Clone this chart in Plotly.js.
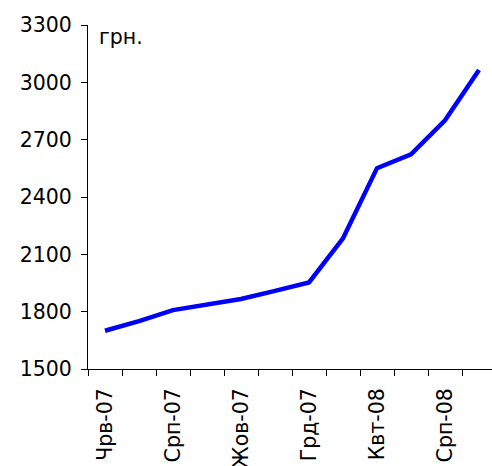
<!DOCTYPE html>
<html>
<head>
<meta charset="utf-8">
<script src="https://cdn.plot.ly/plotly-3.0.1.min.js"></script>
<style>html,body{margin:0;padding:0;overflow:hidden;background:#fff}</style>
</head>
<body>
<div id="chart" style="width:492px;height:466px"></div>
<script>
// Categories (every second one labelled, as in the reference)
const categories = ["Чрв-07","Лип-07","Срп-07","Вер-07","Жов-07","Лис-07","Грд-07","Лют-08","Квт-08","Чрв-08","Срп-08","Жов-08"];
const shownLabels = ["Чрв-07","Срп-07","Жов-07","Грд-07","Квт-08","Срп-08"];
const values = [1700, 1750, 1808, 1836, 1866, 1909, 1953, 2184, 2551, 2623, 2801, 3064];
const yTicks = [1500, 1800, 2100, 2400, 2700, 3000, 3300];
const unitLabel = "грн.";

const idx = categories.map((c, i) => i);
const labelIdx = shownLabels.map(l => categories.indexOf(l));
const boundaries = [];
for (let i = 0; i <= categories.length; i++) boundaries.push(i - 0.5);

const font = {family: "DejaVu Sans, Verdana, sans-serif", size: 20.5, color: "#000"};

Plotly.newPlot("chart", [{
  x: idx,
  y: values,
  type: "scatter",
  mode: "lines",
  line: {color: "#0000FF", width: 4.5},
  hoverinfo: "skip"
}], {
  width: 492,
  height: 466,
  margin: {l: 88, r: 0, t: 25, b: 97, pad: 0},
  paper_bgcolor: "#fff",
  plot_bgcolor: "#fff",
  showlegend: false,
  font: font,
  xaxis: {
    range: [-0.5, 11.382],
    tickmode: "array",
    tickvals: labelIdx,
    ticktext: shownLabels,
    tickangle: -90,
    ticks: "",
    ticklabelstandoff: 10,
    showgrid: false,
    zeroline: false,
    showline: true,
    linecolor: "#000",
    linewidth: 1,
    tickfont: font,
    minor: {tickmode: "array", tickvals: boundaries, ticks: "outside", ticklen: 6, tickcolor: "#000", tickwidth: 1, showgrid: false}
  },
  yaxis: {
    range: [1500, 3300],
    tickmode: "array",
    tickvals: yTicks,
    ticks: "outside",
    ticklen: 6,
    tickcolor: "#000",
    tickwidth: 1,
    ticklabelstandoff: 5,
    showgrid: false,
    zeroline: false,
    showline: true,
    linecolor: "#000",
    linewidth: 1,
    tickfont: font
  },
  annotations: [{
    text: unitLabel,
    xref: "paper", yref: "paper",
    x: 9 / 404, y: (368 - 37) / 343,
    xanchor: "left", yanchor: "middle",
    showarrow: false,
    font: font
  }]
}, {staticPlot: true, displayModeBar: false});
</script>
</body>
</html>
